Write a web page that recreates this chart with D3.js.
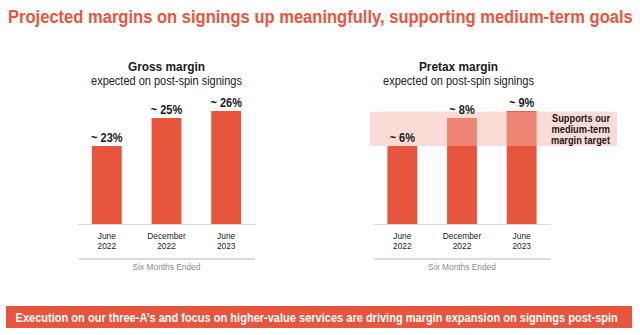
<!DOCTYPE html>
<html>
<head>
<meta charset="utf-8">
<script src="https://cdn.jsdelivr.net/npm/d3@7"></script>
<style>
  body { margin: 0; background: #fff; }
  svg { font-family: "Liberation Sans", Arial, sans-serif; }
</style>
</head>
<body>
<div id="chart"></div>
<script>
// datos
const periodos = [["June", "2022"], ["December", "2022"], ["June", "2023"]];
const brutoValores = [23, 25, 25.5];
const brutoEtiquetas = ["~ 23%", "~ 25%", "~ 26%"];
const antesImpValores = [6, 8, 8.5];
const antesImpEtiquetas = ["~ 6%", "~ 8%", "~ 9%"];
const bandaObjetivo = [6, 8.45];
const textoBanda = ["Supports our", "medium-term", "margin target"];

const rojo = "#e8553d";
const width = 640, height = 335;
const baseY = 224;
const estrecho = 0.88; // la fuente original es mas estrecha

const svg = d3.select("#chart").append("svg")
    .attr("width", width)
    .attr("height", height);

// texto con escala horizontal (ancho fijo si se pasa 'ancho')
function texto(padre, x, y, str, op) {
    const t = padre.append("text")
        .attr("text-anchor", op.anchor || "middle")
        .style("font-size", op.size + "px")
        .style("font-weight", op.bold ? "bold" : "normal")
        .style("fill", op.color || "#1a1a1a")
        .text(str);
    let k = estrecho;
    if (op.ancho) k = op.ancho / t.node().getComputedTextLength();
    t.attr("transform", `translate(${x},${y}) scale(${k},1)`);
    return t;
}

// titulo
texto(svg, 8, 23, "Projected margins on signings up meaningfully, supporting medium-term goals",
    { size: 18.5, bold: true, color: rojo, anchor: "start", ancho: 625 });

function dibujarPanel(cfg) {
    const g = svg.append("g");

    const x = d3.scaleBand()
        .domain(periodos.map((d, i) => i))
        .range(cfg.rangoX)
        .paddingInner(0.5)
        .paddingOuter(0.25);

    // 14 px por punto porcentual
    const y = d3.scaleLinear()
        .domain([cfg.cero, cfg.cero + 10])
        .range([baseY, baseY - 140]);

    const centro = (cfg.rangoX[0] + cfg.rangoX[1]) / 2;

    texto(g, cfg.centroTitulo, 71, cfg.titulo, { size: 13.5, bold: true });
    texto(g, cfg.centroTitulo, 85, "expected on post-spin signings", { size: 12.5, color: "#222" });

    g.selectAll(".bar")
        .data(cfg.valores)
        .enter()
        .append("rect")
        .attr("class", "bar")
        .attr("x", (d, i) => x(i))
        .attr("width", x.bandwidth())
        .attr("y", d => y(d))
        .attr("height", d => baseY - y(d))
        .style("fill", rojo);

    if (cfg.banda) {
        g.append("rect")
            .attr("x", 370)
            .attr("width", 617 - 370)
            .attr("y", y(cfg.banda[1]))
            .attr("height", y(cfg.banda[0]) - y(cfg.banda[1]))
            .style("fill", "rgb(245,183,173)")
            .style("fill-opacity", 0.5);

        textoBanda.forEach((t, i) => {
            texto(g, 610, 122 + i * 11, t, { size: 10.5, bold: true, anchor: "end" });
        });
    }

    cfg.valores.forEach((d, i) => {
        texto(g, x(i) + x.bandwidth() / 2, y(d) - 4.5, cfg.etiquetas[i], { size: 12.5, bold: true });
    });

    // linea base
    g.append("line")
        .attr("x1", cfg.rangoX[0] + 1).attr("x2", cfg.rangoX[1] - 1)
        .attr("y1", baseY + 0.5).attr("y2", baseY + 0.5)
        .style("stroke", "#d9d9d9").style("stroke-width", 1.2);

    periodos.forEach((p, i) => {
        const cx = x(i) + x.bandwidth() / 2;
        texto(g, cx, 239, p[0], { size: 9.5, color: "#222" });
        texto(g, cx, 249.3, p[1], { size: 9.5, color: "#222" });
    });

    g.append("line")
        .attr("x1", cfg.rangoX[0] + 2).attr("x2", cfg.rangoX[1] - 1)
        .attr("y1", 259).attr("y2", 259)
        .style("stroke", "#cfcfcf").style("stroke-width", 1.5);

    texto(g, centro, 269.5, "Six Months Ended", { size: 9.5, color: "#8c8c8c" });
}

dibujarPanel({
    titulo: "Gross margin",
    centroTitulo: 166.5,
    rangoX: [77, 256],
    valores: brutoValores,
    etiquetas: brutoEtiquetas,
    cero: 17.43
});

dibujarPanel({
    titulo: "Pretax margin",
    centroTitulo: 458.5,
    rangoX: [372.5, 551.5],
    valores: antesImpValores,
    etiquetas: antesImpEtiquetas,
    cero: 0.43,
    banda: bandaObjetivo
});

// barra inferior
svg.append("rect")
    .attr("x", 6).attr("y", 306)
    .attr("width", 626).attr("height", 22)
    .style("fill", rojo);
texto(svg, 316.7, 321.8, "Execution on our three-A’s and focus on higher-value services are driving margin expansion on signings post-spin",
    { size: 12.5, bold: true, color: "#fff", ancho: 603 });
</script>
</body>
</html>
